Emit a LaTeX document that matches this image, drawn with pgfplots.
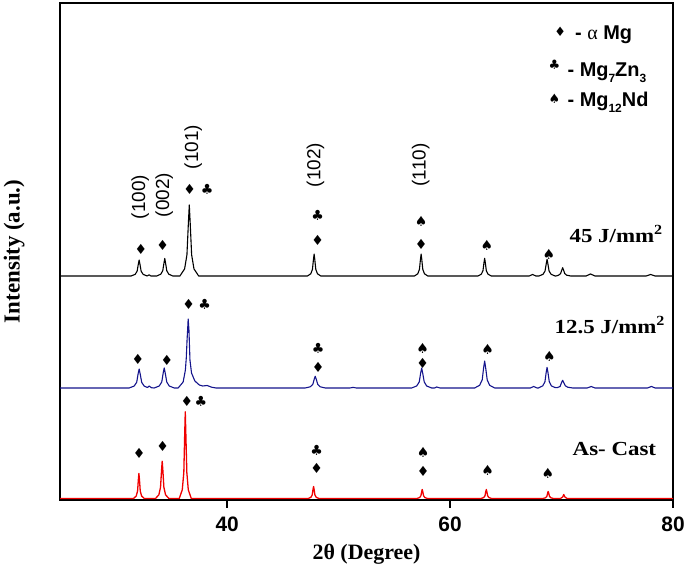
\documentclass[border=0pt]{standalone}
\usepackage{fontspec}
\setmainfont{Liberation Serif}
\newfontfamily\arial{Liberation Sans}
\newfontfamily\sym{DejaVu Sans}
\usepackage{graphicx}
\usepackage{pgfplots}
\pgfplotsset{compat=1.18}
\definecolor{navy}{RGB}{20,20,140}
\definecolor{xred}{RGB}{240,0,0}
\newcommand{\Dia}[2]{\node[font=\sym\fontsize{14}{14}\selectfont, inner sep=1bp] at (axis cs:#1,#2) {♦};}
\newcommand{\Clu}[2]{\node[font=\sym\fontsize{14}{14}\selectfont, inner sep=1bp] at (axis cs:#1,#2) {♣};}
\newcommand{\Spa}[2]{\node[font=\sym\fontsize{14}{14}\selectfont, inner sep=1bp] at (axis cs:#1,#2) {♠};}
\newcommand{\Mil}[3]{\node[rotate=90,font=\arial\fontsize{19}{19}\selectfont] at (axis cs:#1,#2) {#3};}
\begin{document}
\begin{tikzpicture}[x=1bp,y=1bp]
\useasboundingbox (0,0) rectangle (685,569);
\begin{axis}[at={(60bp,69bp)}, anchor=south west, scale only axis,
  width=613bp, height=497bp, xmin=25, xmax=80, ymin=0, ymax=497,
  xtick={40,60,80}, ytick=\empty, xtick pos=bottom, tick align=outside,
  major tick length=8bp, axis line style={line width=2.8bp},
  tick style={line width=2.5bp, black},
  xticklabel style={font=\arial\bfseries\fontsize{21}{21}\selectfont, yshift=-5bp},
  /pgf/number format/assume math mode=true,
  xlabel={2θ (Degree)}, ylabel={Intensity (a.u.)},
  xlabel style={font=\bfseries\fontsize{22}{22}\selectfont, at={(axis description cs:0.5,-0.11)}, anchor=center},
  ylabel style={font=\bfseries\fontsize{23}{23}\selectfont, at={(axis description cs:-0.075,0.5)}, anchor=center},
  clip=false]
\addplot[black, line width=1.1bp, line join=round] coordinates {
(25,224) (31.38,224) (31.74,225.6) (31.92,228.8) (32.03,236) (32.1,240) (32.17,236) (32.28,228.8) (32.46,225.6) (32.82,224) (33.0,225.2) (33.15,224) (33.68,224) (34.04,225.8) (34.22,229.3) (34.33,237.1) (34.4,241.5) (34.47,237.1) (34.58,229.3) (34.76,225.8) (35.12,224) (35.76,224) (36.18,231.1) (36.39,245.3) (36.52,277.3) (36.6,295) (36.68,277.3) (36.81,245.3) (37.02,231.1) (37.44,224) (47.2,224) (47.5,226.2) (47.65,230.6) (47.74,240.5) (47.8,246) (47.86,240.5) (47.95,230.6) (48.1,226.2) (48.4,224) (56.8,224) (57.1,226.2) (57.25,230.6) (57.34,240.5) (57.4,246) (57.46,240.5) (57.55,230.6) (57.7,226.2) (58.0,224) (62.5,224) (62.8,225.8) (62.95,229.3) (63.04,237.3) (63.1,241.7) (63.16,237.3) (63.25,229.3) (63.4,225.8) (63.7,224) (67.1,224) (67.4,225.5) (67.7,224) (67.98,224) (68.34,225.7) (68.52,229) (68.63,236.5) (68.7,240.7) (68.77,236.5) (68.88,229) (69.06,225.7) (69.42,224) (69.5,224) (69.74,224.8) (69.92,226.5) (70.03,230.2) (70.1,232.3) (70.17,230.2) (70.28,226.5) (70.46,224.8) (70.82,224) (72.2,224) (72.6,226) (73.0,224) (77.6,224) (78.0,225.5) (78.4,224) (80,224)};
\addplot[navy, line width=1.1bp, line join=round] coordinates {
(25,112) (31.2,112) (31.65,113.9) (31.88,117.7) (32.01,126.3) (32.1,131) (32.19,126.3) (32.33,117.7) (32.55,113.9) (32.85,112.5) (33.0,114) (33.2,112.3) (33.45,112) (33.9,114) (34.13,118) (34.26,127) (34.35,132) (34.44,127) (34.58,118) (34.8,114) (35.25,112) (35.6,112) (36.05,118) (36.25,130) (36.33,142) (36.4,160) (36.45,170) (36.5,181) (36.57,170) (36.66,140) (36.8,127) (37.1,119) (37.5,115) (37.8,114) (38.2,114.5) (38.6,112.8) (39.0,112) (47.0,112) (47.45,113.2) (47.68,115.5) (47.81,120.8) (47.9,123.7) (47.99,120.8) (48.13,115.5) (48.35,113.2) (48.8,112) (51.0,112) (51.3,112.6) (51.6,112) (56.55,112) (57.0,114) (57.23,118) (57.36,127) (57.45,132) (57.54,127) (57.68,118) (57.9,114) (58.35,112) (58.6,112) (58.8,113) (59.1,112) (62.2,112) (62.65,114.7) (62.88,120.1) (63.01,132.3) (63.1,139) (63.19,132.3) (63.33,120.1) (63.55,114.7) (64.0,112) (67.2,112) (67.5,113.5) (67.8,112) (67.92,112) (68.31,114.1) (68.51,118.2) (68.62,127.5) (68.7,132.6) (68.78,127.5) (68.9,118.2) (69.09,114.1) (69.4,112.5) (69.6,112.3) (69.87,113.5) (70.0,117.5) (70.1,119.7) (70.19,117.5) (70.33,114.3) (70.55,112.8) (71.0,112) (72.3,112) (72.66,113.5) (73.0,112) (77.7,112) (78.06,113.5) (78.4,112) (80,112)};
\addplot[xred, line width=1.3bp, line join=round] coordinates {
(25,1.5) (31.6,1.5) (31.84,4) (31.96,9) (32.03,20.3) (32.08,26.5) (32.13,20.3) (32.2,9) (32.32,4) (32.56,1.5) (33.57,1.5) (33.87,5.2) (34.02,12.7) (34.11,29.5) (34.17,38.8) (34.23,29.5) (34.32,12.7) (34.47,5.2) (34.77,1.5) (35.7,1.5) (35.97,10.2) (36.11,27.5) (36.19,66.5) (36.24,88.2) (36.29,66.5) (36.38,27.5) (36.51,10.2) (36.78,1.5) (47.27,1.5) (47.51,2.7) (47.63,5.1) (47.7,10.5) (47.75,13.5) (47.8,10.5) (47.87,5.1) (47.99,2.7) (48.23,1.5) (57.02,1.5) (57.26,2.4) (57.38,4.2) (57.45,8.3) (57.5,10.5) (57.55,8.3) (57.62,4.2) (57.74,2.4) (57.98,1.5) (62.77,1.5) (63.01,2.4) (63.13,4.2) (63.2,8.3) (63.25,10.5) (63.3,8.3) (63.37,4.2) (63.49,2.4) (63.73,1.5) (68.32,1.5) (68.56,2.2) (68.68,3.6) (68.75,6.8) (68.8,8.5) (68.85,6.8) (68.92,3.6) (69.04,2.2) (69.28,1.5) (69.9,1.5) (70.1,3) (70.2,5.5) (70.3,3) (70.5,1.5) (80,1.5)};
% black trace markers
\Dia{32.26}{251} \Dia{34.2}{254.3} \Dia{36.63}{311} \Clu{38.19}{311}
\Clu{48.11}{284.3} \Dia{48.11}{259.3}
\Spa{57.4}{278.3} \Dia{57.4}{255.7} \Spa{63.31}{255} \Spa{68.86}{246}
% blue trace markers
\Dia{31.99}{141} \Dia{34.6}{140} \Dia{36.54}{196} \Clu{37.98}{196}
\Clu{48.17}{151.7} \Dia{48.17}{132.7}
\Spa{57.53}{151.5} \Dia{57.53}{137} \Spa{63.37}{151} \Spa{68.91}{143.3}
% red trace markers
\Dia{36.39}{98.3} \Clu{37.65}{98.3} \Dia{32.1}{46.7} \Dia{34.2}{53.3}
\Clu{48.02}{49.3} \Dia{48.02}{31.7}
\Spa{57.58}{47.7} \Dia{57.58}{29} \Spa{63.37}{30} \Spa{68.77}{26.7}
% Miller indices
\Mil{32.19}{303}{(100)} \Mil{34.35}{305}{(002)} \Mil{36.96}{353}{(101)}
\Mil{47.93}{335}{(102)} \Mil{57.37}{335}{(110)}
% sample labels
\node[anchor=east, font=\bfseries\fontsize{20}{20}\selectfont] at (axis cs:79.4,266) {\scalebox{1.15}[1]{45 J/mm\textsuperscript{2}}};
\node[anchor=east, font=\bfseries\fontsize{20}{20}\selectfont] at (axis cs:79.6,175) {\scalebox{1.15}[1]{12.5 J/mm\textsuperscript{2}}};
\node[anchor=east, font=\bfseries\fontsize{20}{20}\selectfont] at (axis cs:78.8,51) {\scalebox{1.15}[1]{As- Cast}};
% legend
\node[font=\sym\fontsize{13}{13}\selectfont] at (axis cs:69.87,468) {♦};
\node[font=\sym\fontsize{13}{13}\selectfont] at (axis cs:69.36,435) {♣};
\node[font=\sym\fontsize{13}{13}\selectfont] at (axis cs:69.36,401) {♠};
\node[anchor=base west, font=\arial\bfseries\fontsize{20}{20}\selectfont] at (axis cs:70.9,460) {- {\mdseries\rmfamily α} Mg};
\node[anchor=base west, font=\arial\bfseries\fontsize{20}{20}\selectfont] at (axis cs:70.23,423.3) {- Mg\raisebox{-0.3em}{\fontsize{12}{12}\selectfont 7}Zn\raisebox{-0.3em}{\fontsize{12}{12}\selectfont 3}};
\node[anchor=base west, font=\arial\bfseries\fontsize{20}{20}\selectfont] at (axis cs:70.23,393.3) {- Mg\raisebox{-0.3em}{\fontsize{12}{12}\selectfont 12}Nd};
\end{axis}
\end{tikzpicture}
\end{document}
